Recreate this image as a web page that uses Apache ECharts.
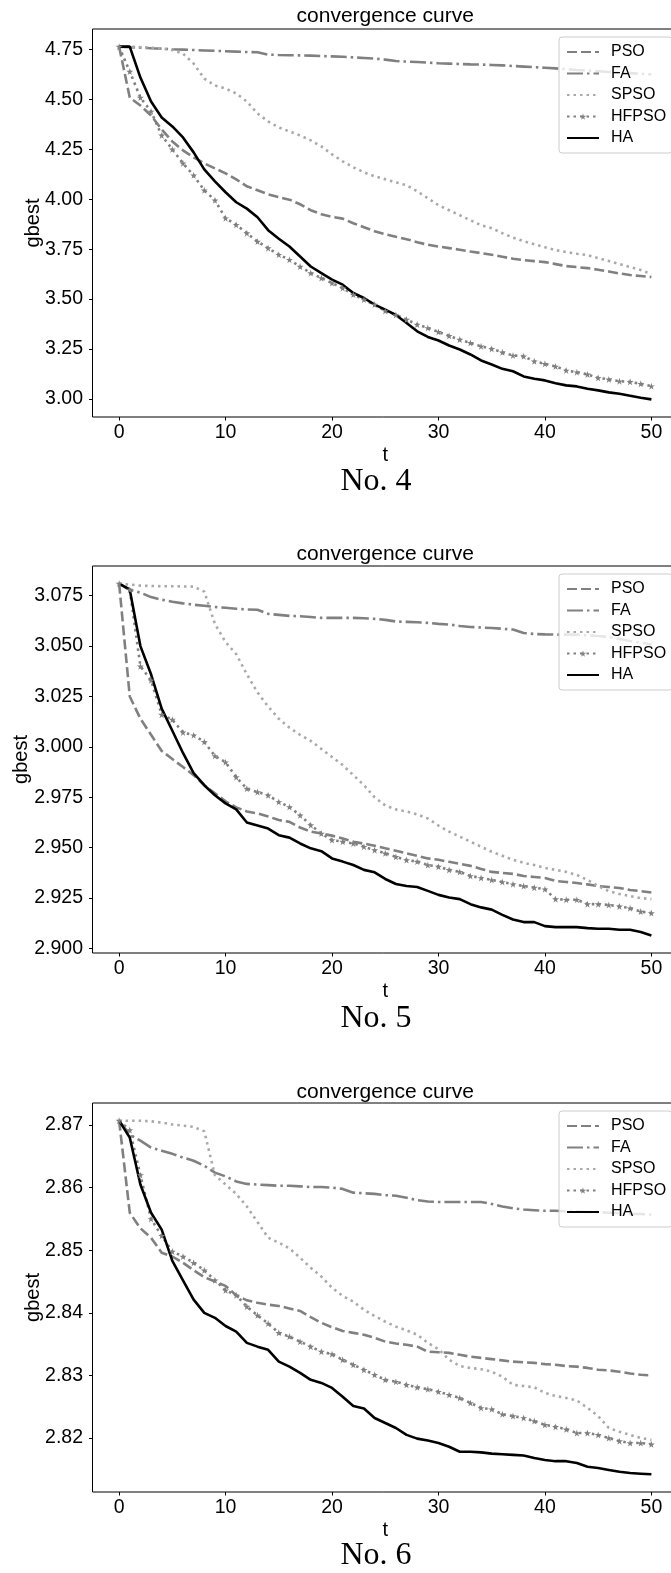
<!DOCTYPE html>
<html>
<head>
<meta charset="utf-8">
<script src="https://cdn.jsdelivr.net/npm/echarts@6/dist/echarts.min.js"></script>
<style>
html,body{margin:0;padding:0;background:#fff;}
#chart{width:671px;height:1573px;}
</style>
</head>
<body>
<div id="chart"></div>
<script>
// ---------------- DATA ----------------
const t = [0,1,2,3,4,5,6,7,8,9,10,11,12,13,14,15,16,17,18,19,20,21,22,23,24,25,26,27,28,29,30,31,32,33,34,35,36,37,38,39,40,41,42,43,44,45,46,47,48,49,50];
const seriesNames = ['PSO','FA','SPSO','HFPSO','HA'];
const xTicks = [0,10,20,30,40,50];
const titleText = 'convergence curve';
const xName = 't';
const yName = 'gbest';
const captions = ['No. 4','No. 5','No. 6'];

// Panel No. 4
const p4PSO = [4.765,4.51,4.47,4.42,4.35,4.29,4.245,4.21,4.18,4.155,4.13,4.10,4.065,4.045,4.025,4.01,3.998,3.975,3.945,3.925,3.912,3.903,3.88,3.86,3.84,3.825,3.812,3.80,3.785,3.772,3.763,3.755,3.747,3.738,3.73,3.722,3.712,3.702,3.695,3.69,3.685,3.675,3.665,3.66,3.655,3.647,3.638,3.628,3.62,3.615,3.61];
const p4FA = [4.765,4.762,4.760,4.757,4.755,4.752,4.750,4.748,4.746,4.744,4.742,4.740,4.738,4.737,4.725,4.723,4.722,4.721,4.720,4.718,4.716,4.714,4.711,4.708,4.705,4.700,4.693,4.690,4.688,4.685,4.682,4.680,4.678,4.676,4.675,4.673,4.671,4.668,4.665,4.662,4.659,4.656,4.652,4.648,4.645,4.642,4.638,4.635,4.632,4.629,4.626];
const p4SPSO = [4.765,4.765,4.762,4.760,4.755,4.748,4.73,4.68,4.605,4.57,4.555,4.53,4.49,4.43,4.39,4.36,4.34,4.32,4.295,4.265,4.225,4.19,4.16,4.135,4.115,4.10,4.085,4.07,4.04,4.005,3.97,3.945,3.92,3.895,3.87,3.855,3.83,3.808,3.79,3.775,3.76,3.745,3.735,3.727,3.72,3.705,3.69,3.675,3.66,3.645,3.625];
const p4HFPSO = [4.765,4.64,4.51,4.44,4.32,4.25,4.18,4.12,4.045,3.995,3.905,3.872,3.83,3.788,3.755,3.722,3.697,3.663,3.63,3.605,3.58,3.555,3.522,3.497,3.472,3.44,3.42,3.397,3.372,3.355,3.335,3.315,3.297,3.28,3.263,3.25,3.233,3.217,3.213,3.188,3.175,3.162,3.142,3.133,3.122,3.105,3.097,3.088,3.085,3.075,3.063];
const p4HA = [4.765,4.765,4.61,4.49,4.41,4.365,4.31,4.235,4.15,4.09,4.035,3.985,3.953,3.91,3.845,3.802,3.763,3.713,3.663,3.63,3.597,3.572,3.53,3.505,3.472,3.447,3.42,3.38,3.338,3.31,3.292,3.267,3.247,3.222,3.192,3.172,3.15,3.138,3.112,3.10,3.092,3.078,3.067,3.062,3.05,3.042,3.032,3.025,3.015,3.005,2.997];
const p4YTicks = ['3.00','3.25','3.50','3.75','4.00','4.25','4.50','4.75'];

// Panel No. 5
const p5PSO = [3.081,3.025,3.014,3.006,2.998,2.994,2.990,2.986,2.981,2.977,2.973,2.970,2.968,2.967,2.9655,2.9637,2.9628,2.960,2.958,2.957,2.956,2.9546,2.953,2.952,2.951,2.9497,2.9485,2.9472,2.946,2.9447,2.944,2.943,2.942,2.941,2.9395,2.938,2.9375,2.937,2.936,2.9355,2.935,2.9335,2.933,2.9325,2.9318,2.931,2.9305,2.930,2.929,2.9285,2.9278];
const p5FA = [3.081,3.078,3.0765,3.0743,3.073,3.072,3.0712,3.0705,3.070,3.0694,3.069,3.0685,3.0682,3.068,3.066,3.0655,3.065,3.0648,3.0644,3.064,3.064,3.064,3.064,3.0638,3.0635,3.063,3.0622,3.062,3.0618,3.0615,3.061,3.0607,3.060,3.0595,3.0592,3.059,3.0586,3.0582,3.0565,3.056,3.0558,3.0557,3.0557,3.0557,3.0553,3.055,3.0545,3.0535,3.0525,3.0517,3.0508];
const p5SPSO = [3.081,3.0805,3.080,3.0798,3.0797,3.0797,3.0796,3.0795,3.077,3.061,3.052,3.046,3.036,3.027,3.020,3.014,3.0095,3.006,3.003,2.999,2.995,2.991,2.986,2.981,2.975,2.971,2.969,2.968,2.9665,2.9645,2.961,2.958,2.9555,2.953,2.9505,2.948,2.946,2.944,2.9425,2.9414,2.940,2.939,2.938,2.9365,2.934,2.931,2.9285,2.927,2.926,2.925,2.9245];
const p5HFPSO = [3.081,3.078,3.040,3.033,3.016,3.0135,3.0072,3.0058,3.0025,2.9955,2.9924,2.985,2.9793,2.9776,2.976,2.9727,2.9702,2.9661,2.9612,2.957,2.9538,2.953,2.9521,2.9505,2.9488,2.9472,2.9455,2.9439,2.9431,2.9414,2.9406,2.939,2.938,2.936,2.935,2.934,2.933,2.9319,2.931,2.9302,2.9294,2.9245,2.9242,2.9242,2.922,2.922,2.9216,2.9209,2.920,2.9183,2.9176];
const p5HA = [3.081,3.078,3.050,3.036,3.019,3.008,2.997,2.987,2.981,2.976,2.972,2.969,2.9625,2.961,2.9595,2.9562,2.955,2.9521,2.9497,2.9483,2.9447,2.9431,2.9414,2.939,2.9378,2.9345,2.932,2.931,2.9305,2.9286,2.9266,2.9253,2.9245,2.922,2.9204,2.9193,2.9167,2.9144,2.9131,2.9131,2.9111,2.9106,2.9106,2.9106,2.9101,2.9098,2.9098,2.9093,2.9093,2.9082,2.9065];
const p5YTicks = ['2.900','2.925','2.950','2.975','3.000','3.025','3.050','3.075'];

// Panel No. 6
const p6PSO = [2.8707,2.856,2.8535,2.852,2.8496,2.849,2.848,2.8468,2.8457,2.845,2.8443,2.8428,2.842,2.8416,2.8413,2.8411,2.8407,2.8403,2.8393,2.8384,2.8377,2.8371,2.8368,2.8365,2.836,2.8354,2.8351,2.8349,2.8346,2.8338,2.8337,2.8336,2.8333,2.833,2.8328,2.8326,2.8324,2.8322,2.8321,2.832,2.8318,2.8317,2.8315,2.8314,2.8312,2.8309,2.8308,2.8306,2.8303,2.8301,2.830];
const p6FA = [2.8707,2.8685,2.8675,2.8664,2.8659,2.8654,2.8648,2.8643,2.8635,2.8624,2.8618,2.861,2.8606,2.8605,2.8604,2.8603,2.8603,2.8602,2.8601,2.8601,2.860,2.8598,2.8592,2.8591,2.859,2.8588,2.8587,2.8584,2.858,2.8578,2.8577,2.8577,2.8577,2.8577,2.8577,2.8574,2.857,2.8567,2.8565,2.8564,2.8563,2.8563,2.8562,2.8562,2.8561,2.8561,2.856,2.8559,2.8558,2.8558,2.8557];
const p6SPSO = [2.8707,2.8707,2.8707,2.8706,2.8704,2.8701,2.8699,2.8697,2.869,2.862,2.8605,2.859,2.857,2.8545,2.852,2.8512,2.8503,2.8488,2.8472,2.8458,2.844,2.8427,2.8418,2.8405,2.8395,2.8386,2.8378,2.8372,2.8365,2.8352,2.8342,2.8325,2.8315,2.8312,2.831,2.8306,2.8298,2.8285,2.8283,2.8281,2.8272,2.8267,2.8264,2.826,2.8248,2.8235,2.8216,2.821,2.8205,2.820,2.8197];
const p6HFPSO = [2.8707,2.8692,2.862,2.855,2.8523,2.8498,2.849,2.848,2.8468,2.8452,2.8436,2.8428,2.841,2.8396,2.8383,2.8368,2.8362,2.8354,2.8346,2.8338,2.8334,2.8325,2.8317,2.8309,2.8301,2.8293,2.829,2.8285,2.8281,2.8278,2.8274,2.8269,2.8264,2.8256,2.8248,2.8246,2.8238,2.8235,2.8232,2.8227,2.8221,2.8218,2.8214,2.8208,2.8208,2.8205,2.820,2.8195,2.8192,2.8192,2.819];
const p6HA = [2.8707,2.868,2.8605,2.856,2.8533,2.8483,2.8452,2.8421,2.840,2.8392,2.8379,2.837,2.8352,2.8346,2.8341,2.8322,2.8314,2.8304,2.8293,2.8288,2.828,2.8266,2.8251,2.8247,2.8232,2.8224,2.8216,2.8205,2.8199,2.8196,2.8192,2.8186,2.8178,2.8178,2.8177,2.8175,2.8174,2.8173,2.8172,2.8168,2.8165,2.8163,2.8163,2.816,2.8154,2.8152,2.8149,2.8146,2.8144,2.8143,2.8142];
const p6YTicks = ['2.82','2.83','2.84','2.85','2.86','2.87'];

// ---------------- LAYOUT / STYLE ----------------
const panels = [
  {values:[p4PSO,p4FA,p4SPSO,p4HFPSO,p4HA], ticks:p4YTicks, top:29, height:388, nameGap:49, caption:captions[0], titleY:16, capY:482},
  {values:[p5PSO,p5FA,p5SPSO,p5HFPSO,p5HA], ticks:p5YTicks, top:566, height:387, nameGap:61, caption:captions[1], titleY:554, capY:1019},
  {values:[p6PSO,p6FA,p6SPSO,p6HFPSO,p6HA], ticks:p6YTicks, top:1103, height:389, nameGap:49, caption:captions[2], titleY:1092, capY:1556}
];
const GRID_LEFT = 92.5, GRID_WIDTH = 585.5;
const SANS = '"Liberation Sans", Arial, sans-serif';
const SERIF = '"Liberation Serif", "DejaVu Serif", serif';
const STAR = 'path://M50,0 L61,35 L98,35 L68,57 L79,91 L50,70 L21,91 L32,57 L2,35 L39,35 Z';
const styles = {
  PSO:   {color:'#808080', type:[10,4]},
  FA:    {color:'#808080', type:[16,4,2.5,4]},
  SPSO:  {color:'#a9a9a9', type:[2.5,4]},
  HFPSO: {color:'#808080', type:[2.5,4], symbol:STAR},
  HA:    {color:'#000000', type:'solid'}
};

const grid = [], xAxis = [], yAxis = [], series = [], legend = [], graphic = [];
panels.forEach((p, i) => {
  let lo = Infinity, hi = -Infinity;
  p.values.forEach(arr => arr.forEach(v => { lo = Math.min(lo, v); hi = Math.max(hi, v); }));
  const pad = (hi - lo) * 0.05;
  const tickVals = p.ticks.map(Number);
  const dec = p.ticks[0].split('.')[1].length;

  grid.push({left:GRID_LEFT, top:p.top, width:GRID_WIDTH, height:p.height, show:true,
    borderColor:'#000', borderWidth:1, backgroundColor:'transparent', containLabel:false, outerBoundsMode:'none'});

  xAxis.push({type:'value', gridIndex:i, min:-2.5, max:52.5, position:'bottom',
    name:xName, nameLocation:'middle', nameGap:28, nameMoveOverlap:false,
    nameTextStyle:{fontSize:20, fontFamily:SANS, color:'#000'},
    axisLine:{show:false, onZero:false}, splitLine:{show:false},
    axisTick:{show:true, inside:false, length:3.5, customValues:xTicks, lineStyle:{color:'#000', width:1}},
    axisLabel:{customValues:xTicks, fontSize:19.5, fontFamily:SANS, color:'#000', margin:6}
  });

  yAxis.push({type:'value', gridIndex:i, min:lo - pad, max:hi + pad, position:'left',
    name:yName, nameLocation:'middle', nameGap:p.nameGap, nameMoveOverlap:false,
    nameTextStyle:{fontSize:20, fontFamily:SANS, color:'#000'},
    axisLine:{show:false, onZero:false}, splitLine:{show:false},
    axisTick:{show:true, inside:false, length:3.5, customValues:tickVals, lineStyle:{color:'#000', width:1}},
    axisLabel:{customValues:tickVals, fontSize:19.5, fontFamily:SANS, color:'#000', margin:9.5,
      formatter: v => Number(v).toFixed(dec)}
  });

  seriesNames.forEach((name, k) => {
    const st = styles[name];
    const s = {
      name, type:'line', xAxisIndex:i, yAxisIndex:i,
      data: t.map((x, j) => [x, p.values[k][j]]),
      lineStyle:{color:st.color, width:2.6, type:st.type},
      itemStyle:{color:st.color},
      emphasis:{disabled:true}, silent:true, animation:false
    };
    if (st.symbol) {
      s.symbol = st.symbol; s.symbolSize = 7; s.showSymbol = true;
    } else {
      s.symbol = 'none'; s.showSymbol = false;
    }
    series.push(s);
  });

  legend.push({orient:'vertical', left:559, top:p.top + 8, itemWidth:32, itemHeight:8, itemGap:4.5,
    padding:[6.5,6,6.5,7], backgroundColor:'rgba(255,255,255,0.8)', borderColor:'#cccccc', borderWidth:1, borderRadius:3,
    selectedMode:false,
    textStyle:{fontSize:16, fontFamily:SANS, color:'#000', lineHeight:17, padding:[0,0,0,7]},
    data: seriesNames.map(n => ({name:n, itemStyle: styles[n].symbol ? {} : {opacity:0}}))
  });

  graphic.push({type:'text', x:GRID_LEFT + GRID_WIDTH/2, y:p.titleY,
    style:{text:titleText, fontSize:21, fontFamily:SANS, fill:'#000', align:'center', verticalAlign:'middle'}});
  graphic.push({type:'text', x:376, y:p.capY,
    style:{text:p.caption, fontSize:32, fontFamily:SERIF, fill:'#000', align:'center', verticalAlign:'middle'}});
});

const chart = echarts.init(document.getElementById('chart'), null, {renderer:'canvas'});
chart.setOption({animation:false, backgroundColor:'#fff', grid, xAxis, yAxis, series, legend, graphic});
</script>
</body>
</html>
